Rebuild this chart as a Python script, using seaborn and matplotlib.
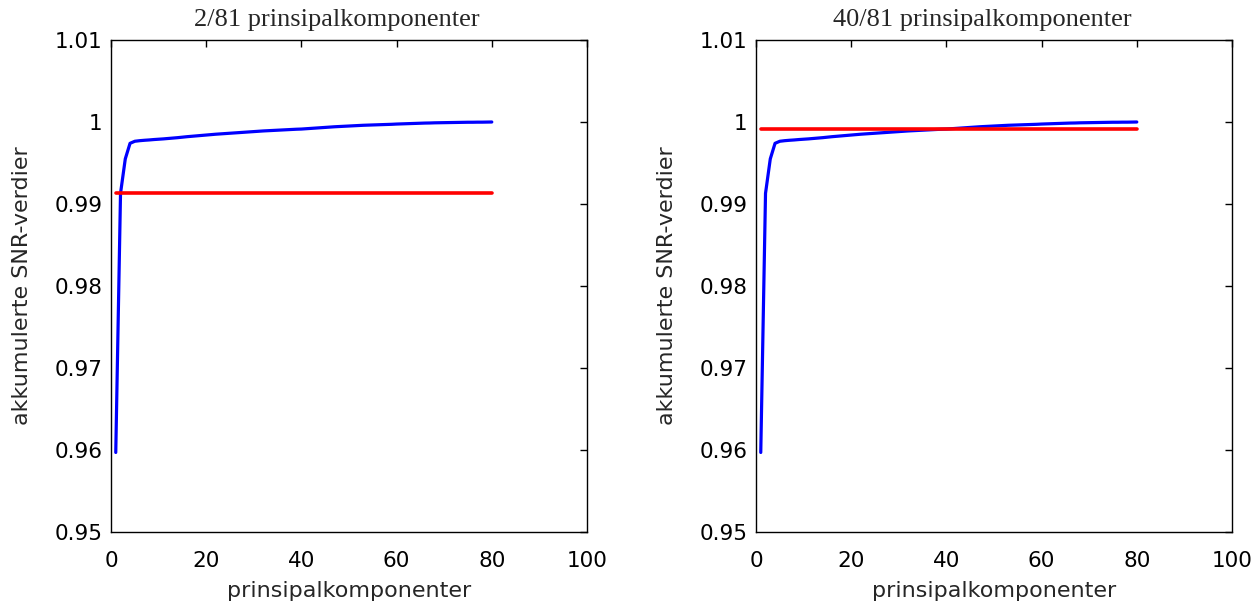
import numpy as np
import matplotlib
matplotlib.use("Agg")
import matplotlib.pyplot as plt
from matplotlib.ticker import FuncFormatter, MultipleLocator
import seaborn as sns

# Cumulative SNR share per number of principal components (81 total)
components = list(range(1, 81))
cumulative_snr = [
    0.9597, 0.9913, 0.9955, 0.9974, 0.99765, 0.99772, 0.99777, 0.99781, 0.99786, 0.9979,
    0.99794, 0.99799, 0.99804, 0.99809, 0.99815, 0.99821, 0.99826, 0.99831, 0.99836, 0.99841,
    0.99846, 0.99851, 0.99855, 0.99859, 0.99863, 0.99867, 0.99871, 0.99875, 0.99879, 0.99883,
    0.99887, 0.99891, 0.99894, 0.99897, 0.999, 0.99903, 0.99906, 0.99909, 0.99912, 0.99914,
    0.99918, 0.99922, 0.99926, 0.9993, 0.99934, 0.99938, 0.99942, 0.99945, 0.99948, 0.99951,
    0.99954, 0.99957, 0.9996, 0.99962, 0.99964, 0.99966, 0.99968, 0.9997, 0.99972, 0.99975,
    0.99977, 0.99979, 0.99981, 0.99983, 0.99985, 0.99987, 0.99988, 0.9999, 0.99991, 0.99992,
    0.99993, 0.99994, 0.99995, 0.99996, 0.99997, 0.99997, 0.99998, 0.99998, 0.99999, 1.0,
]
total_components = 81
kept_components = [2, 40]

sns.set_style("white")
plt.rcParams["font.family"] = ["DejaVu Sans"]

fig = plt.figure(figsize=(12.59, 6.12), dpi=100)
ax_w, ax_h = 476 / 1259, 492 / 612
ax_bottom = (612 - 532) / 612
axes = [
    fig.add_axes([111 / 1259, ax_bottom, ax_w, ax_h]),
    fig.add_axes([756 / 1259, ax_bottom, ax_w, ax_h]),
]

for ax, k in zip(axes, kept_components):
    threshold = cumulative_snr[k - 1]
    sns.lineplot(x=components, y=cumulative_snr, ax=ax, color="#0000ff",
                 linewidth=2.3, estimator=None)
    sns.lineplot(x=components, y=[threshold] * len(components), ax=ax,
                 color="#ff0000", linewidth=2.6, estimator=None)

    ax.set_xlim(0, 100)
    ax.set_ylim(0.95, 1.01)
    ax.xaxis.set_major_locator(MultipleLocator(20))
    ax.yaxis.set_major_locator(MultipleLocator(0.01))
    ax.yaxis.set_major_formatter(FuncFormatter(lambda v, _: f"{round(v, 4):g}"))
    ax.tick_params(direction="in", top=True, right=True, length=5, width=1.0,
                   labelsize=15.5, pad=6, colors="black")
    ax.tick_params(axis="x", pad=14)
    for sp in ax.spines.values():
        sp.set_visible(True)
        sp.set_color("black")
        sp.set_linewidth(1.0)

    ax.set_title(f"{k}/{total_components} prinsipalkomponenter",
                 fontsize=19, family="Liberation Serif", pad=10, x=0.475)
    ax.set_xlabel("prinsipalkomponenter", fontsize=16)
    ax.set_ylabel("akkumulerte SNR-verdier", fontsize=16)
    ax.xaxis.set_label_coords(0.5, -0.10)
    ax.yaxis.set_label_coords(-0.166, 0.5)

fig.savefig("out.png", dpi=100, facecolor="white")
